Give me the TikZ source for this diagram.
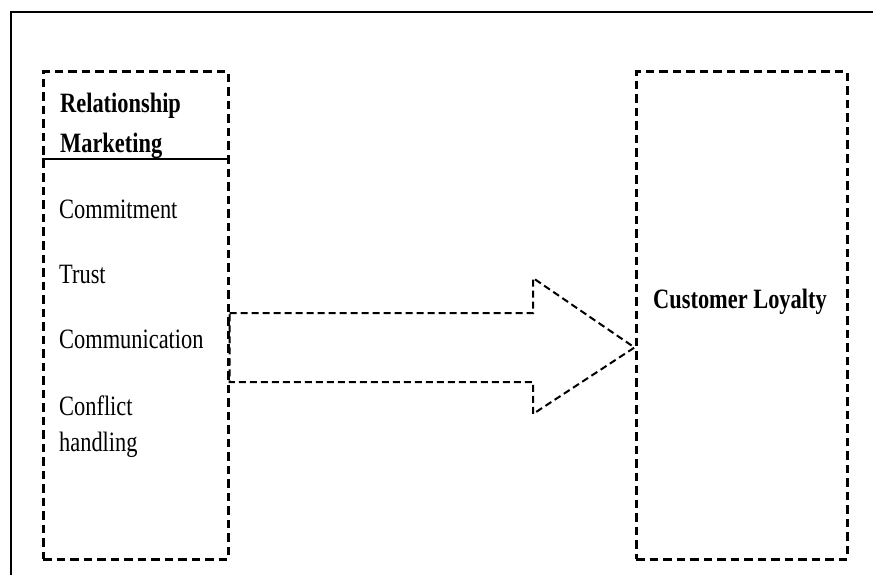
\documentclass[tikz,border=0pt]{standalone}
\usepackage{fontspec}
\setmainfont{Liberation Serif}[FakeStretch=0.8]
\tikzset{
  frameline/.style={line width=2pt},
  dashbox/.style={draw, line width=3pt, dash pattern=on 8.5pt off 5pt, inner sep=0pt},
  arrowline/.style={line width=2pt, dash pattern=on 7pt off 4pt, line join=miter},
  rule/.style={line width=2pt},
  label/.style={anchor=base west, inner sep=0pt, font=\fontsize{28}{32}\selectfont},
  bold label/.style={label, font=\fontsize{28}{32}\selectfont\bfseries}
}
\begin{document}
\begin{tikzpicture}[x=1pt,y=-1pt]
  \useasboundingbox (0,0) rectangle (873,575);
  % page frame, running off the right and bottom edges
  \coordinate (fr) at (873,12);
  \coordinate (fc) at (11,12);
  \coordinate (fb) at (11,575);
  \draw[frameline] (fr) -- (fc) -- (fb);

  % the two construct boxes
  \node[dashbox, minimum width=185pt, minimum height=487pt] (rm) at (135.5,315.5) {};
  \node[dashbox, minimum width=211pt, minimum height=487pt] (cl) at (741.5,315.5) {};

  % heading rule of the left box
  \coordinate (rl) at (rm.west |- 0,159);
  \coordinate (rr) at (rm.east |- 0,159);
  \draw[rule] (rl) -- (rr);

  % texts
  \node[bold label] (t1) at (60,113) {Relationship};
  \node[bold label] (t2) at (60,153) {Marketing};
  \node[label] (t3) at (59,218) {Commitment};
  \node[label] (t4) at (59,283) {Trust};
  \node[label] (t5) at (59,348) {Communication};
  \node[label] (t6) at (59,415) {Conflict};
  \node[label] (t7) at (59,451) {handling};
  \node[bold label] (t8) at (653,308) {Customer Loyalty};

  % block arrow between the boxes
  \coordinate (a1) at (rm.east |- 0,313);
  \coordinate (a2) at (533,313);
  \coordinate (a3) at (533,278);
  \coordinate (tip) at (cl.west |- 0,347.5);
  \coordinate (a5) at (533,414);
  \coordinate (a6) at (533,382);
  \coordinate (a7) at (rm.east |- 0,382);
  \draw[arrowline] (a1) -- (a2) -- (a3) -- (tip) -- (a5) -- (a6) -- (a7) -- cycle;
\end{tikzpicture}
\end{document}
